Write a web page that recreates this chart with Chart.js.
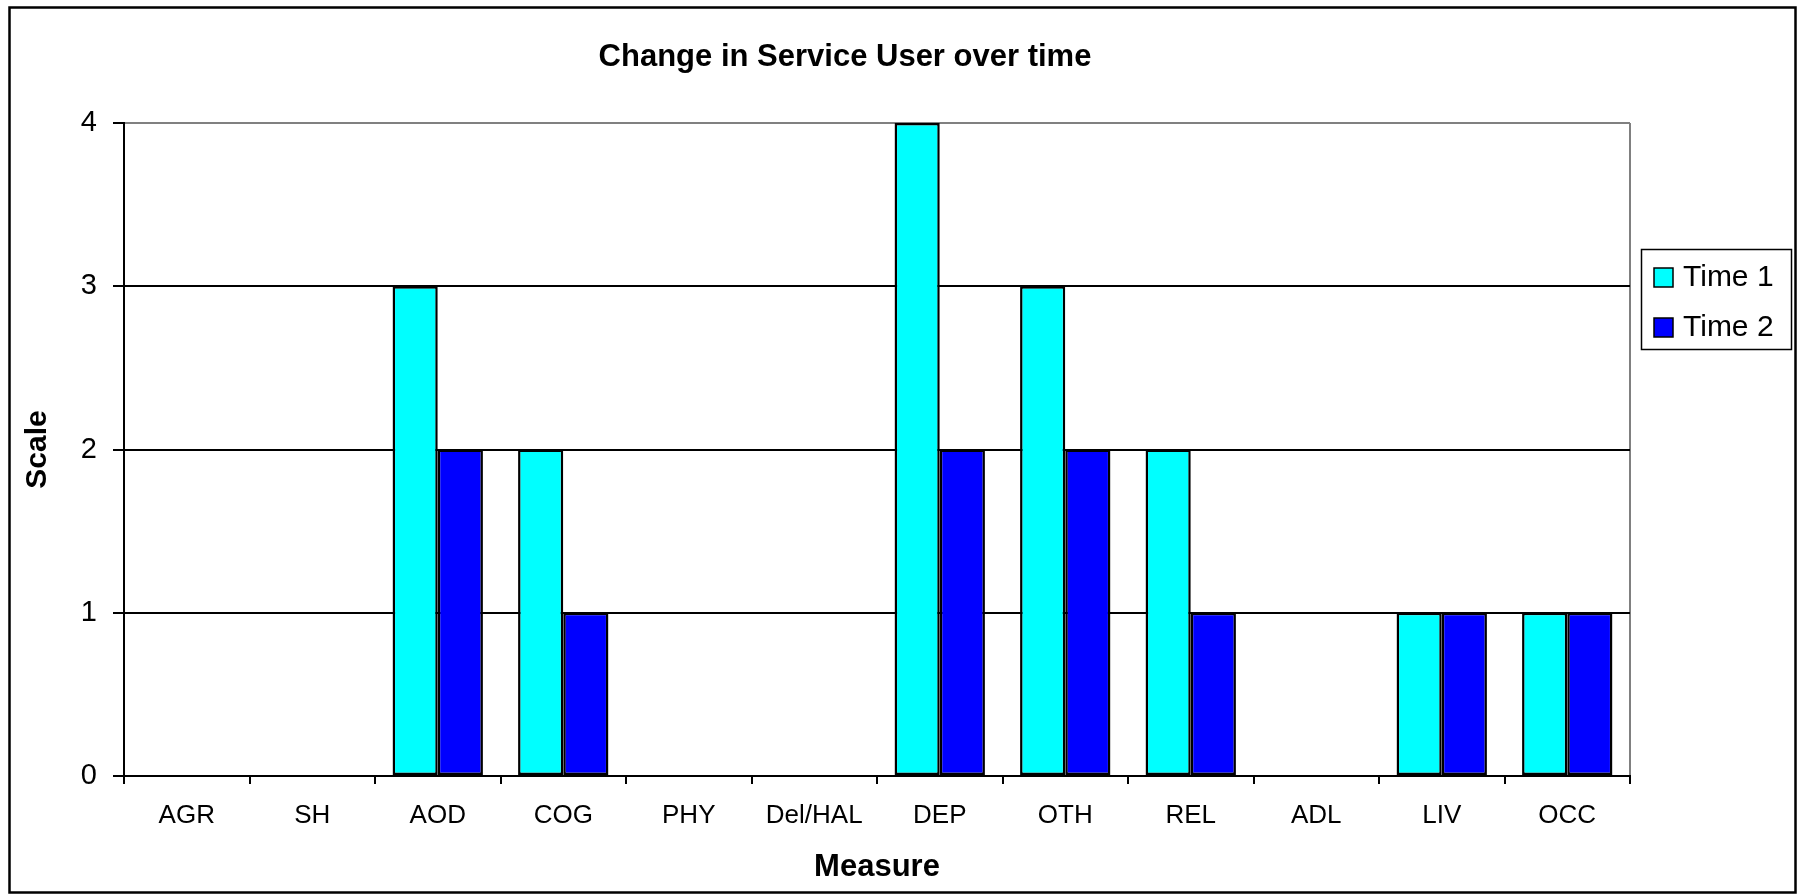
<!DOCTYPE html>
<html>
<head>
<meta charset="utf-8">
<script src="https://cdn.jsdelivr.net/npm/chart.js@4/dist/chart.umd.min.js"></script>
<style>
  html, body { margin: 0; padding: 0; background: #fff; }
  canvas { display: block; }
</style>
</head>
<body>
<canvas id="c" width="1797" height="895"></canvas>
<script>
const categories = ['AGR', 'SH', 'AOD', 'COG', 'PHY', 'Del/HAL', 'DEP', 'OTH', 'REL', 'ADL', 'LIV', 'OCC'];
const time1 = [0, 0, 3, 2, 0, 0, 4, 3, 2, 0, 1, 1];
const time2 = [0, 0, 2, 1, 0, 0, 2, 2, 1, 0, 1, 1];
const seriesNames = ['Time 1', 'Time 2'];
const yTicks = [0, 1, 2, 3, 4];
const chartTitle = 'Change in Service User over time';
const xTitle = 'Measure';
const yTitle = 'Scale';

const FONT = '"Liberation Sans", Arial, sans-serif';

const framePlugin = {
  id: 'frame',
  beforeDraw(chart) {
    const ctx = chart.ctx;
    ctx.save();
    ctx.fillStyle = '#ffffff';
    ctx.fillRect(0, 0, chart.width, chart.height);
    ctx.restore();
  },
  afterDraw(chart) {
    const ctx = chart.ctx;
    ctx.save();
    // outer frame
    ctx.strokeStyle = '#000';
    ctx.lineWidth = 2.5;
    ctx.strokeRect(9.5, 7.5, 1786, 885);
    // title
    ctx.fillStyle = '#000';
    ctx.font = 'bold 31px ' + FONT;
    ctx.textAlign = 'center';
    ctx.textBaseline = 'middle';
    ctx.fillText(chartTitle, 845, 57);
    // legend
    ctx.lineWidth = 1.5;
    ctx.strokeRect(1641.5, 249.5, 150, 100);
    chart.data.datasets.forEach((ds, i) => {
      const y = 268 + i * 50;
      ctx.fillStyle = ds.backgroundColor;
      ctx.fillRect(1654, y, 19, 19);
      ctx.strokeStyle = '#000';
      ctx.lineWidth = 1.5;
      ctx.strokeRect(1654, y, 19, 19);
      ctx.fillStyle = '#000';
      ctx.font = '30px ' + FONT;
      ctx.textAlign = 'left';
      ctx.textBaseline = 'middle';
      ctx.fillText(ds.label, 1683, y + 10);
    });
    ctx.restore();
  }
};

new Chart(document.getElementById('c'), {
  type: 'bar',
  data: {
    labels: categories,
    datasets: [
      { label: seriesNames[0], data: time1, backgroundColor: '#00FFFF', borderColor: '#000', borderWidth: 2.5, borderSkipped: false },
      { label: seriesNames[1], data: time2, backgroundColor: '#0000FF', borderColor: '#000', borderWidth: 2.5, borderSkipped: false }
    ]
  },
  options: {
    responsive: false,
    animation: false,
    events: [],
    layout: { padding: { left: 10, right: 167, top: 123, bottom: 0 } },
    datasets: { bar: { categoryPercentage: 0.72, barPercentage: 1.0 } },
    plugins: {
      legend: { display: false },
      title: { display: false },
      tooltip: { enabled: false }
    },
    scales: {
      x: {
        offset: true,
        grid: {
          display: true,
          offset: true,
          drawOnChartArea: true,
          color: (c) => c.type === 'tick' ? 'rgba(0,0,0,0)' : '#808080',
          tickColor: '#000',
          lineWidth: 2,
          tickLength: 8
        },
        border: { display: true, color: '#000', width: 2 },
        ticks: {
          color: '#000',
          font: { family: FONT, size: 26 },
          padding: 16,
          maxRotation: 0,
          autoSkip: false
        },
        title: {
          display: true,
          text: xTitle,
          color: '#000',
          font: { family: FONT, size: 31, weight: 'bold' },
          padding: { top: 0, bottom: 9 }
        },
        afterFit: (s) => { s.height = 895 - 776; }
      },
      y: {
        min: 0,
        max: 4,
        afterBuildTicks: (s) => { s.ticks = yTicks.map(v => ({ value: v })); },
        grid: {
          color: (c) => (c.tick && c.tick.value === 4) ? '#808080' : '#000',
          tickColor: '#000',
          lineWidth: 2,
          tickLength: 11
        },
        border: { display: true, color: '#000', width: 2 },
        ticks: {
          color: '#000',
          font: { family: FONT, size: 29 },
          padding: 16
        },
        title: {
          display: true,
          text: yTitle,
          color: '#000',
          font: { family: FONT, size: 30, weight: 'bold' },
          padding: { top: 10, bottom: 0 }
        },
        afterFit: (s) => { s.width = 114; }
      }
    }
  },
  plugins: [framePlugin]
});
</script>
</body>
</html>
